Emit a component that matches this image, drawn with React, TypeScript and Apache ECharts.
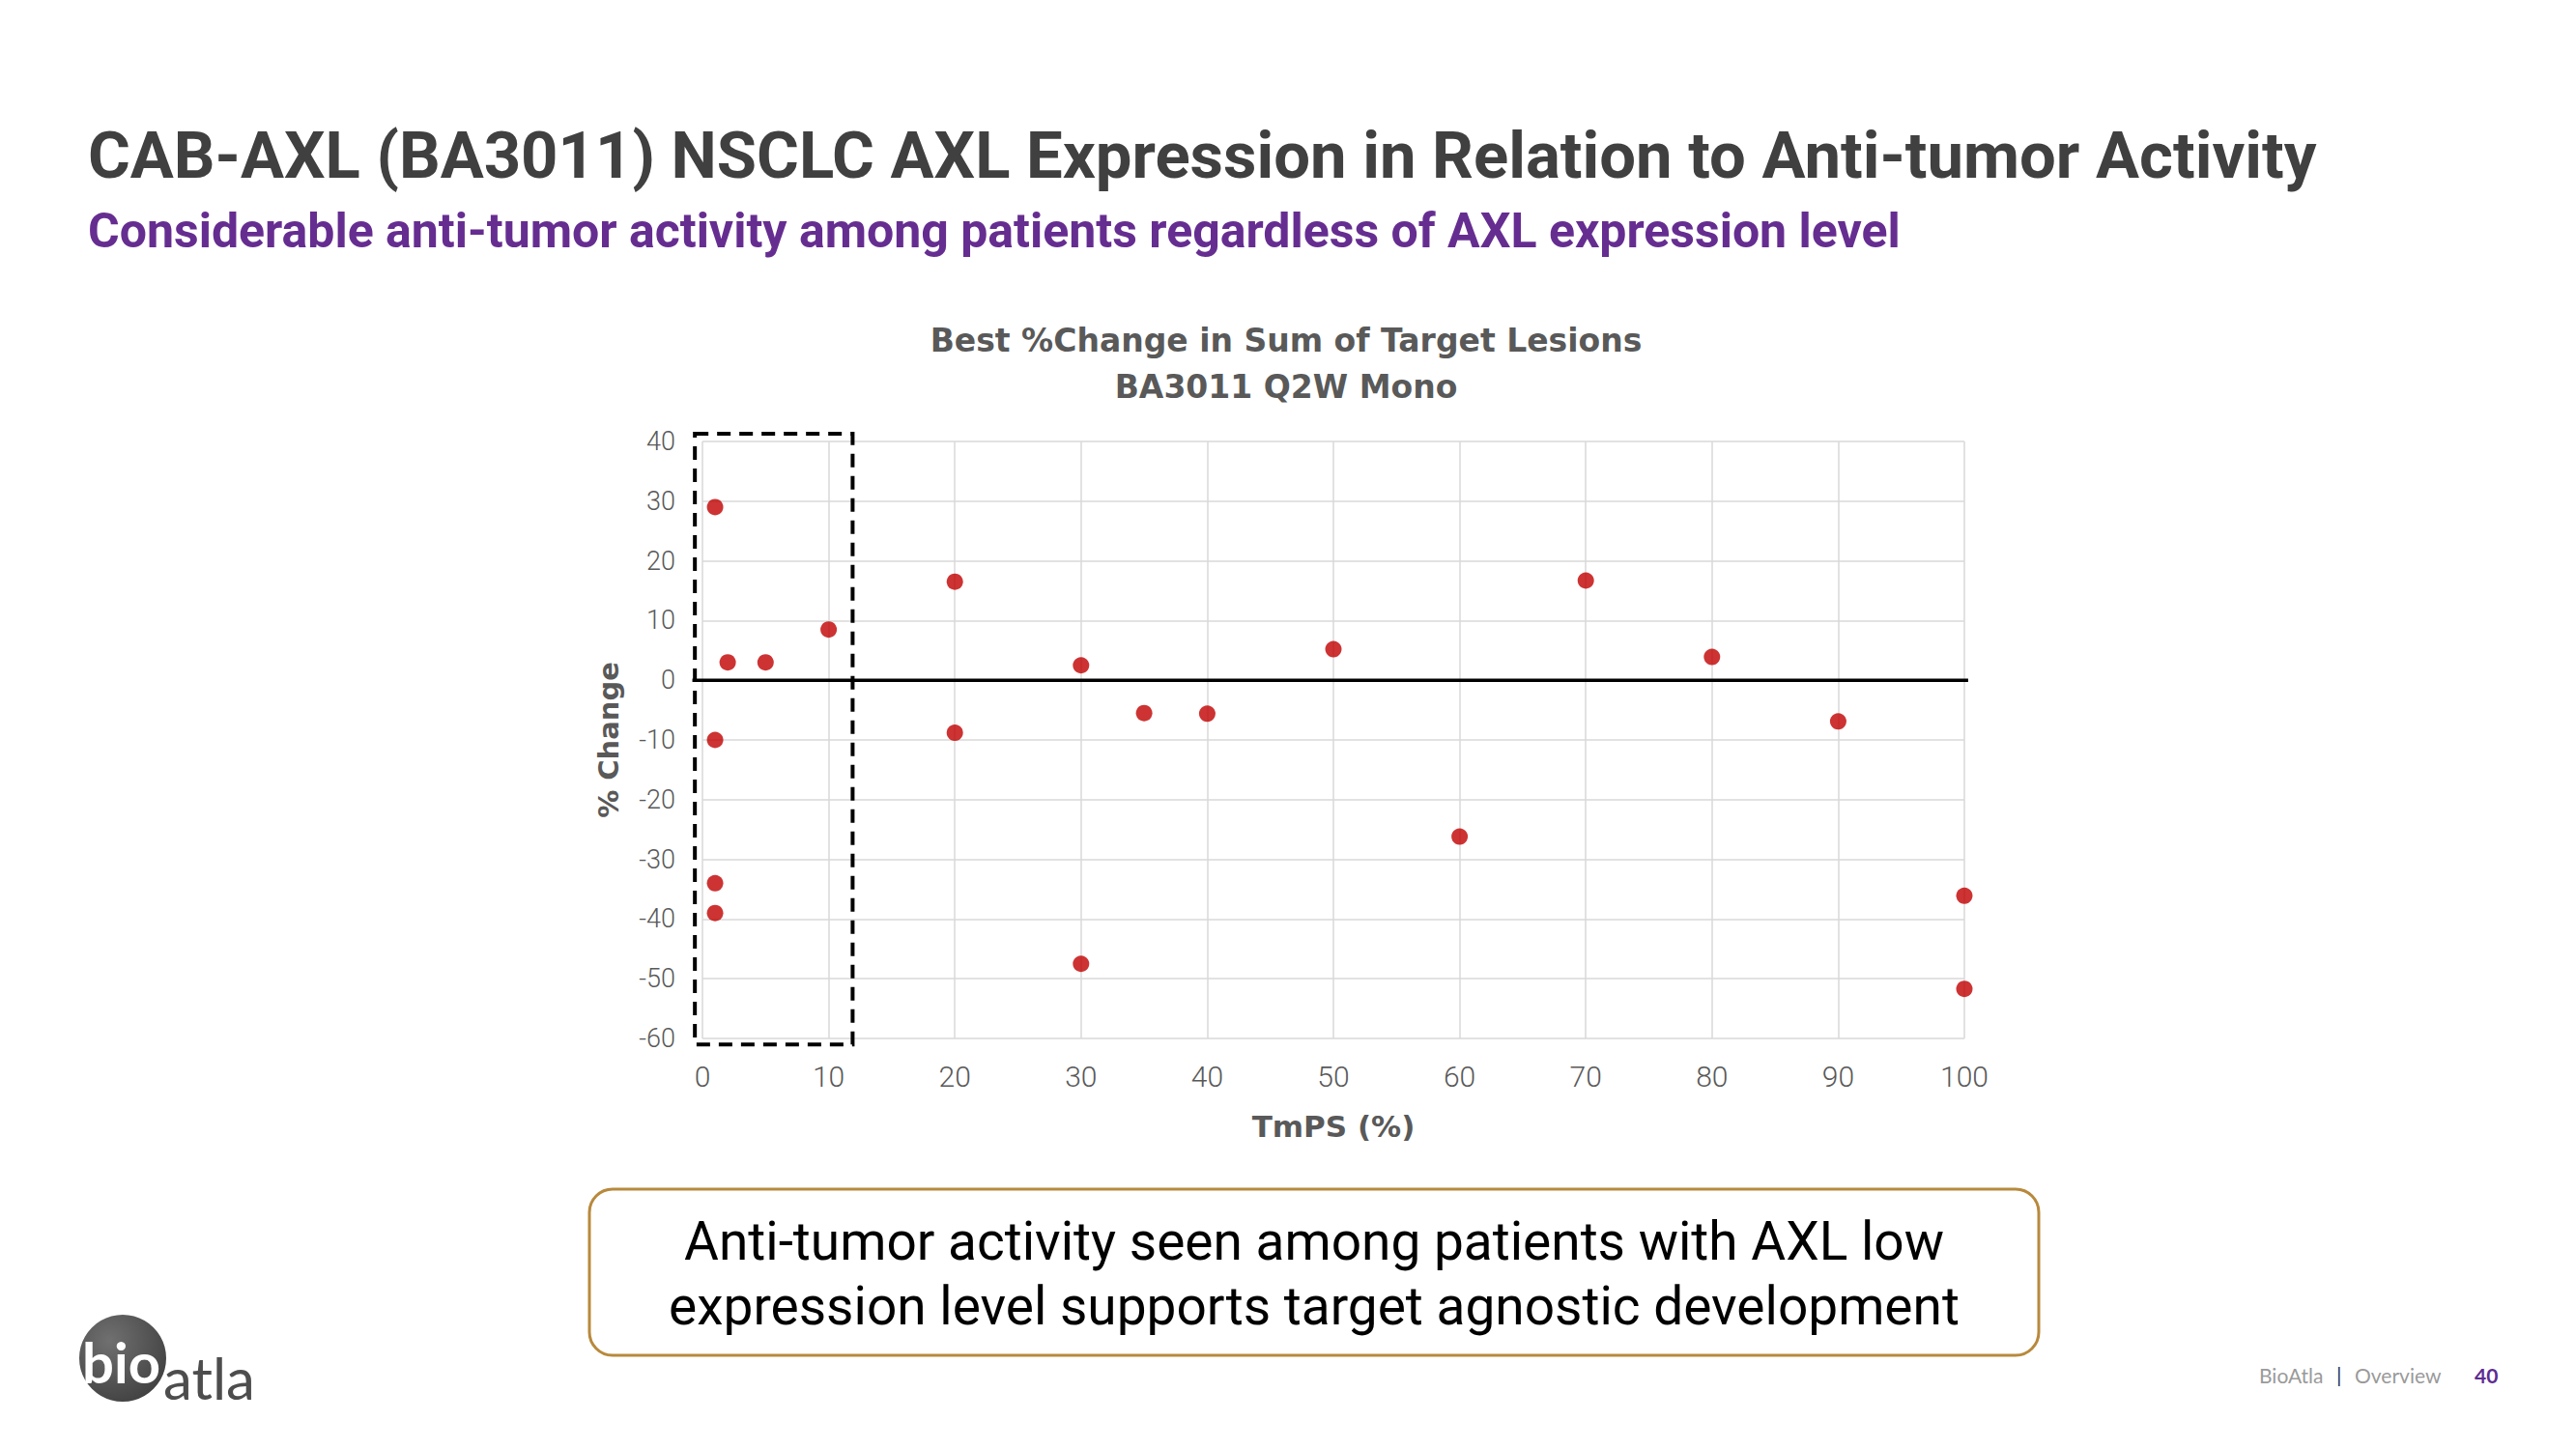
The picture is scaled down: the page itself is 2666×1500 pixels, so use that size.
import React, { useEffect, useRef } from "react";
import * as echarts from "echarts";

// ---- Data ----
const tmpsPct: number[] = [1, 2, 5, 10, 1, 1, 1, 20, 20, 30, 30, 35, 40, 50, 60, 70, 80, 90, 100, 100];
const pctChange: number[] = [29, 3, 3, 8.5, -10, -34, -39, 16.5, -8.8, 2.5, -47.5, -5.5, -5.6, 5.2, -26.2, 16.7, 3.9, -6.9, -36.1, -51.7];

const xMin = 0;
const xMax = 100;
const xStep = 10;
const yMin = -60;
const yMax = 40;
const yStep = 10;

// Highlighted low-expression region (data units)
const lowRegionX: number[] = [-0.6, 11.9];
const lowRegionY: number[] = [-61, 41.3];
// Zero reference line extent (data units)
const zeroLineX: number[] = [-0.8, 100.3];

const slideTitle = "CAB-AXL (BA3011) NSCLC AXL Expression in Relation to Anti-tumor Activity";
const slideSubtitle = "Considerable anti-tumor activity among patients regardless of AXL expression level";
const chartTitle1 = "Best %Change in Sum of Target Lesions";
const chartTitle2 = "BA3011 Q2W Mono";
const xName = "TmPS (%)";
const yName = "% Change";
const calloutLines: string[] = [
  "Anti-tumor activity seen among patients with AXL low",
  "expression level supports target agnostic development",
];

export default function App() {
  const ref = useRef<HTMLDivElement>(null);

  useEffect(() => {
    document.body.style.margin = "0";
    const chart = echarts.init(ref.current!, null, { renderer: "svg" });
    const points = tmpsPct.map((x, i) => [x, pctChange[i]]);

    chart.setOption({
      animation: false,
      backgroundColor: "#ffffff",
      grid: { left: 727, top: 457, width: 1306, height: 618, containLabel: false },
      xAxis: {
        type: "value",
        min: xMin,
        max: xMax,
        interval: xStep,
        name: xName,
        nameLocation: "middle",
        nameGap: 75,
        nameTextStyle: { fontFamily: "DejaVu Sans", fontWeight: "bold", fontSize: 31, color: "#595959" },
        axisLine: { show: false },
        axisTick: { show: false },
        axisLabel: { fontFamily: "Roboto", fontWeight: 300, fontSize: 30, color: "#595959", margin: 24 },
        splitLine: { show: true, lineStyle: { color: "#d9d9d9", width: 1.5 } },
      },
      yAxis: {
        type: "value",
        min: yMin,
        max: yMax,
        interval: yStep,
        name: yName,
        nameLocation: "middle",
        nameGap: 83,
        nameRotate: 90,
        nameTextStyle: { fontFamily: "DejaVu Sans", fontWeight: "bold", fontSize: 29, color: "#595959" },
        axisLine: { show: false },
        axisTick: { show: false },
        axisLabel: { fontFamily: "Roboto", fontWeight: 300, fontSize: 27, color: "#595959", margin: 28 },
        splitLine: { show: true, lineStyle: { color: "#d9d9d9", width: 1.5 } },
      },
      series: [
        {
          type: "scatter",
          data: points,
          symbol: "circle",
          symbolSize: 17,
          itemStyle: { color: "#c00000" },
          clip: false,
          z: 5,
        },
      ],
    });

    const tl = chart.convertToPixel({ gridIndex: 0 }, [lowRegionX[0], lowRegionY[1]]) as number[];
    const br = chart.convertToPixel({ gridIndex: 0 }, [lowRegionX[1], lowRegionY[0]]) as number[];
    const z1 = chart.convertToPixel({ gridIndex: 0 }, [zeroLineX[0], 0]) as number[];
    const z2 = chart.convertToPixel({ gridIndex: 0 }, [zeroLineX[1], 0]) as number[];

    chart.setOption({
      graphic: [
        {
          type: "text",
          x: 91,
          y: 161,
          style: {
            text: slideTitle,
            fontFamily: "Roboto",
            fontWeight: "bold",
            fontSize: 67,
            fill: "#404040",
            verticalAlign: "middle",
          },
        },
        {
          type: "text",
          x: 91,
          y: 239,
          style: {
            text: slideSubtitle,
            fontFamily: "Roboto",
            fontWeight: "bold",
            fontSize: 50,
            fill: "#662d91",
            verticalAlign: "middle",
          },
        },
        {
          type: "text",
          x: 1331,
          y: 352,
          style: {
            text: chartTitle1,
            fontFamily: "DejaVu Sans",
            fontWeight: "bold",
            fontSize: 33,
            fill: "#595959",
            align: "center",
            verticalAlign: "middle",
          },
        },
        {
          type: "text",
          x: 1331,
          y: 400,
          style: {
            text: chartTitle2,
            fontFamily: "DejaVu Sans",
            fontWeight: "bold",
            fontSize: 33,
            fill: "#595959",
            align: "center",
            verticalAlign: "middle",
          },
        },
        {
          type: "line",
          z: 3,
          shape: { x1: z1[0], y1: z1[1], x2: z2[0], y2: z2[1] },
          style: { stroke: "#000000", lineWidth: 3.5 },
        },
        {
          type: "rect",
          z: 4,
          shape: { x: tl[0], y: tl[1], width: br[0] - tl[0], height: br[1] - tl[1] },
          style: { fill: "none", stroke: "#000000", lineWidth: 4, lineDash: [14, 9] },
        },
        {
          type: "rect",
          shape: { x: 610, y: 1231, width: 1500, height: 172, r: 24 },
          style: { fill: "#ffffff", stroke: "#b8893c", lineWidth: 3 },
        },
        {
          type: "text",
          x: 1360,
          y: 1285,
          style: {
            text: calloutLines[0],
            fontFamily: "Roboto",
            fontSize: 55,
            fill: "#000000",
            align: "center",
            verticalAlign: "middle",
          },
        },
        {
          type: "text",
          x: 1360,
          y: 1352,
          style: {
            text: calloutLines[1],
            fontFamily: "Roboto",
            fontSize: 55,
            fill: "#000000",
            align: "center",
            verticalAlign: "middle",
          },
        },
        {
          type: "circle",
          shape: { cx: 127, cy: 1406, r: 45 },
          style: {
            fill: new echarts.graphic.RadialGradient(0.35, 0.3, 0.85, [
              { offset: 0, color: "#707070" },
              { offset: 1, color: "#3c3c3c" },
            ]),
          },
        },
        {
          type: "text",
          x: 85,
          y: 1438,
          z: 2,
          style: {
            text: "bio",
            fontFamily: "Lato",
            fontWeight: "bold",
            fontSize: 58,
            fill: "#ffffff",
            verticalAlign: "bottom",
          },
        },
        {
          type: "text",
          x: 169,
          y: 1456,
          z: 2,
          style: {
            text: "atla",
            fontFamily: "Lato",
            fontSize: 60,
            fill: "#4d4d4d",
            verticalAlign: "bottom",
          },
        },
        {
          type: "text",
          x: 2338,
          y: 1423,
          style: { text: "BioAtla", fontFamily: "Lato", fontSize: 21, fill: "#9a9a9a", verticalAlign: "middle" },
        },
        {
          type: "text",
          x: 2418,
          y: 1422,
          style: { text: "|", fontFamily: "Lato", fontSize: 22, fill: "#1f3864", verticalAlign: "middle" },
        },
        {
          type: "text",
          x: 2437,
          y: 1423,
          style: { text: "Overview", fontFamily: "Lato", fontSize: 21, fill: "#9a9a9a", verticalAlign: "middle" },
        },
        {
          type: "text",
          x: 2561,
          y: 1423,
          style: {
            text: "40",
            fontFamily: "Lato",
            fontWeight: "bold",
            fontSize: 21,
            fill: "#5c2d91",
            verticalAlign: "middle",
          },
        },
      ],
    });

    return () => chart.dispose();
  }, []);

  return <div ref={ref} style={{ width: 2666, height: 1500, background: "#ffffff" }} />;
}
